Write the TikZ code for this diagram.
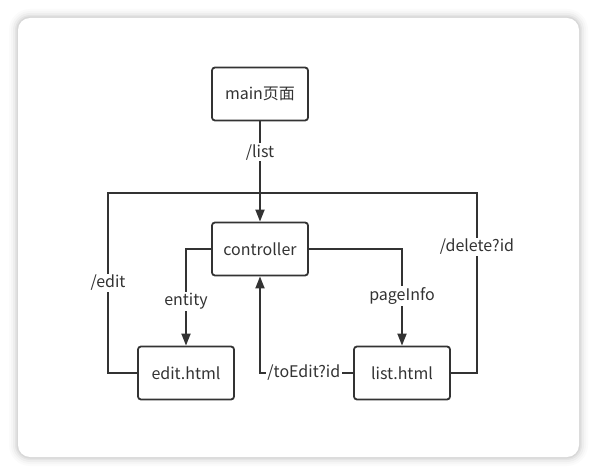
\documentclass[tikz,border=0pt]{standalone}
\usepackage{fontspec}
\setmainfont{Noto Sans CJK SC}
\usetikzlibrary{arrows.meta}
\definecolor{linec}{HTML}{333333}

\begin{document}
\begin{tikzpicture}[x=1pt,y=-1pt,
    font=\fontsize{16}{18}\selectfont, text=linec,
    box/.style={draw=linec, line width=1.8pt, rounded corners=3pt, fill=white,
                minimum width=96pt, minimum height=53pt},
    lbl/.style={fill=white, inner sep=1.5pt},
    wire/.style={draw=linec, line width=1.8pt},
    tip/.style={-{Triangle[length=12pt,width=9pt]}}]
    % card
    \useasboundingbox (0,0) rectangle (598,476);
    \fill[white] (0,0) rectangle (598,476);
    \foreach \s/\r/\o in {9/21/0.015, 7/19/0.02, 5/17/0.03, 3/15/0.04, 1.5/13.5/0.05}
        \fill[black, opacity=\o, rounded corners=\r pt] (18-\s,18-\s) rectangle (579+\s,457+\s);
    \fill[white, rounded corners=12pt] (18,18) rectangle (579,457);

    \node[box] (main) at (260,94) {main页面};
    \node[box] (ctrl) at (260,249) {controller};
    \node[box] (edit) at (186,373) {edit.html};
    \node[box] (list) at (402,373) {list.html};

    \coordinate (join) at (260,193);
    \coordinate (eL) at (108,193);
    \coordinate (dR) at (477,193);

    \draw[wire] (main) -- node[lbl, pos=0.43] {/list} (join);
    \draw[wire, tip] (join) -- (ctrl);
    \draw[wire] (edit.west) -| node[lbl, pos=0.75] {/edit} (eL) -- (join);
    \draw[wire] (list.east) -| node[lbl, pos=0.85] {/delete?id} (dR) -- (join);
    \draw[wire, tip] (ctrl.west) -| node[lbl, pos=0.77] {entity} (edit.north);
    \draw[wire, tip] (ctrl.east) -| node[lbl, pos=0.745] {pageInfo} (list.north);
    \draw[wire, tip] (list.west) -| node[lbl, pos=0.265] {/toEdit?id} (ctrl.south);
\end{tikzpicture}
\end{document}
